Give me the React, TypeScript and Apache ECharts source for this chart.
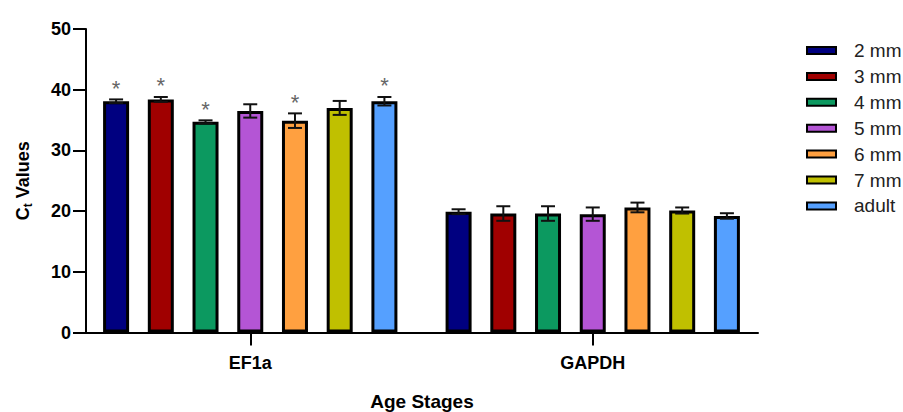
import React, { useEffect, useRef } from "react";
import * as echarts from "echarts";

const stages = ["2 mm", "3 mm", "4 mm", "5 mm", "6 mm", "7 mm", "adult"];
const genes = ["EF1a", "GAPDH"];
const ef1aMeans = [38.1, 38.4, 34.7, 36.5, 34.9, 37.0, 38.1];
const ef1aErrors = [0.3, 0.4, 0.25, 1.1, 1.2, 1.15, 0.7];
const ef1aSignificant = [1, 1, 1, 0, 1, 0, 1];
const gapdhMeans = [19.9, 19.6, 19.6, 19.5, 20.6, 20.1, 19.2];
const gapdhErrors = [0.4, 1.2, 1.2, 1.1, 0.8, 0.5, 0.45];
const gapdhSignificant = [0, 0, 0, 0, 0, 0, 0];
const yTicks = [0, 10, 20, 30, 40, 50];
const colors = ["#000080", "#a00000", "#0c9960", "#b455d5", "#ffa040", "#c0c000", "#55a0ff"];

const FONT = "'Liberation Sans', Arial, Helvetica, sans-serif";
const BAR_WIDTH = 26;
const BAR_GAP = 0.72;

export default function App() {
  const ref = useRef<HTMLDivElement>(null);
  useEffect(() => {
    if (!ref.current) return;
    const chart = echarts.init(ref.current, undefined, { renderer: "svg" });
    const step = BAR_WIDTH * (1 + BAR_GAP);
    const barSeries = stages.map((s, i) => ({
      type: "bar",
      name: s,
      xAxisIndex: 0,
      yAxisIndex: 0,
      data: [ef1aMeans[i], gapdhMeans[i]],
      barWidth: BAR_WIDTH,
      barGap: BAR_GAP * 100 + "%",
      itemStyle: { color: colors[i], borderColor: "#000", borderWidth: 3 },
      z: 2,
    }));
    const errSeries = stages.map((s, i) => ({
      type: "custom",
      name: s + " SD",
      xAxisIndex: 0,
      yAxisIndex: 0,
      z: 4,
      encode: { x: 0, y: 1 },
      data: [
        [0, ef1aMeans[i], ef1aErrors[i], ef1aSignificant[i]],
        [1, gapdhMeans[i], gapdhErrors[i], gapdhSignificant[i]],
      ],
      renderItem: (params: any, api: any) => {
        const cat = api.value(0);
        const m = api.value(1);
        const e = api.value(2);
        const sig = api.value(3);
        const off = (i - 3) * step;
        const top = api.coord([cat, m + e]);
        const bot = api.coord([cat, m - e]);
        const x = top[0] + off;
        const cap = 7;
        const style = { stroke: "#111", lineWidth: 2 };
        const children: any[] = [
          { type: "line", shape: { x1: x, y1: top[1], x2: x, y2: bot[1] }, style },
          { type: "line", shape: { x1: x - cap, y1: top[1], x2: x + cap, y2: top[1] }, style },
          { type: "line", shape: { x1: x - cap, y1: bot[1], x2: x + cap, y2: bot[1] }, style },
        ];
        if (sig) {
          children.push({
            type: "text",
            style: {
              text: "*",
              x: x,
              y: top[1],
              fill: "#666",
              font: "normal 22px " + FONT,
              align: "center",
              verticalAlign: "bottom",
            },
          });
        }
        return { type: "group", children };
      },
    }));
    chart.setOption({
      animation: false,
      grid: [
        { left: 79, width: 685, top: 29, height: 303.5, outerBoundsMode: "none", containLabel: false },
        { left: 86, width: 672, top: 29, height: 303.5, outerBoundsMode: "none", containLabel: false },
      ],
      legend: {
        data: stages,
        orient: "vertical",
        left: 801,
        top: 36,
        itemWidth: 29,
        itemHeight: 7,
        itemGap: 6.9,
        icon: "rect",
        selectedMode: false,
        itemStyle: { borderColor: "#000", borderWidth: 2 },
        textStyle: {
          fontSize: 19,
          lineHeight: 19,
          color: "#222",
          fontFamily: FONT,
          padding: [0, 0, 0, 13],
        },
      },
      xAxis: [
        {
          type: "category",
          gridIndex: 0,
          data: genes,
          axisLine: { show: false },
          axisTick: { show: true, alignWithLabel: true, length: 13, lineStyle: { color: "#000", width: 2 } },
          axisLabel: { margin: 21, color: "#000", fontSize: 18, fontWeight: "bold", fontFamily: FONT },
        },
        {
          type: "value",
          gridIndex: 1,
          min: 0,
          max: 1,
          axisLine: { show: true, onZero: false, lineStyle: { color: "#000", width: 2 } },
          axisTick: { show: false },
          axisLabel: { show: false },
          splitLine: { show: false },
          name: "Age Stages",
          nameLocation: "middle",
          nameGap: 59,
          nameTextStyle: { color: "#000", fontSize: 19, fontWeight: "bold", fontFamily: FONT },
        },
      ],
      yAxis: [
        {
          type: "value",
          gridIndex: 0,
          min: 0,
          max: 50,
          interval: 10,
          show: false,
        },
        {
          type: "value",
          gridIndex: 1,
          min: yTicks[0],
          max: yTicks[yTicks.length - 1],
          interval: yTicks[1] - yTicks[0],
          axisLine: { show: true, lineStyle: { color: "#000", width: 2 } },
          axisTick: { show: true, length: 13, lineStyle: { color: "#000", width: 2 } },
          axisLabel: { margin: 15, color: "#000", fontSize: 18, fontWeight: "bold", fontFamily: FONT },
          splitLine: { show: false },
          name: "{c|C}{t|t}{c| Values}",
          nameLocation: "middle",
          nameGap: 52,
          nameTextStyle: {
            rich: {
              c: { fontSize: 18, fontWeight: "bold", fontFamily: FONT, color: "#000", lineHeight: 22 },
              t: { fontSize: 12, fontWeight: "bold", fontFamily: FONT, color: "#000", lineHeight: 22, padding: [9, 0, 0, 0] },
            },
          },
        },
      ],
      series: [...barSeries, ...errSeries],
    });
    return () => chart.dispose();
  }, []);
  return <div ref={ref} style={{ width: 903, height: 412, position: "absolute", left: 0, top: 0 }} />;
}
